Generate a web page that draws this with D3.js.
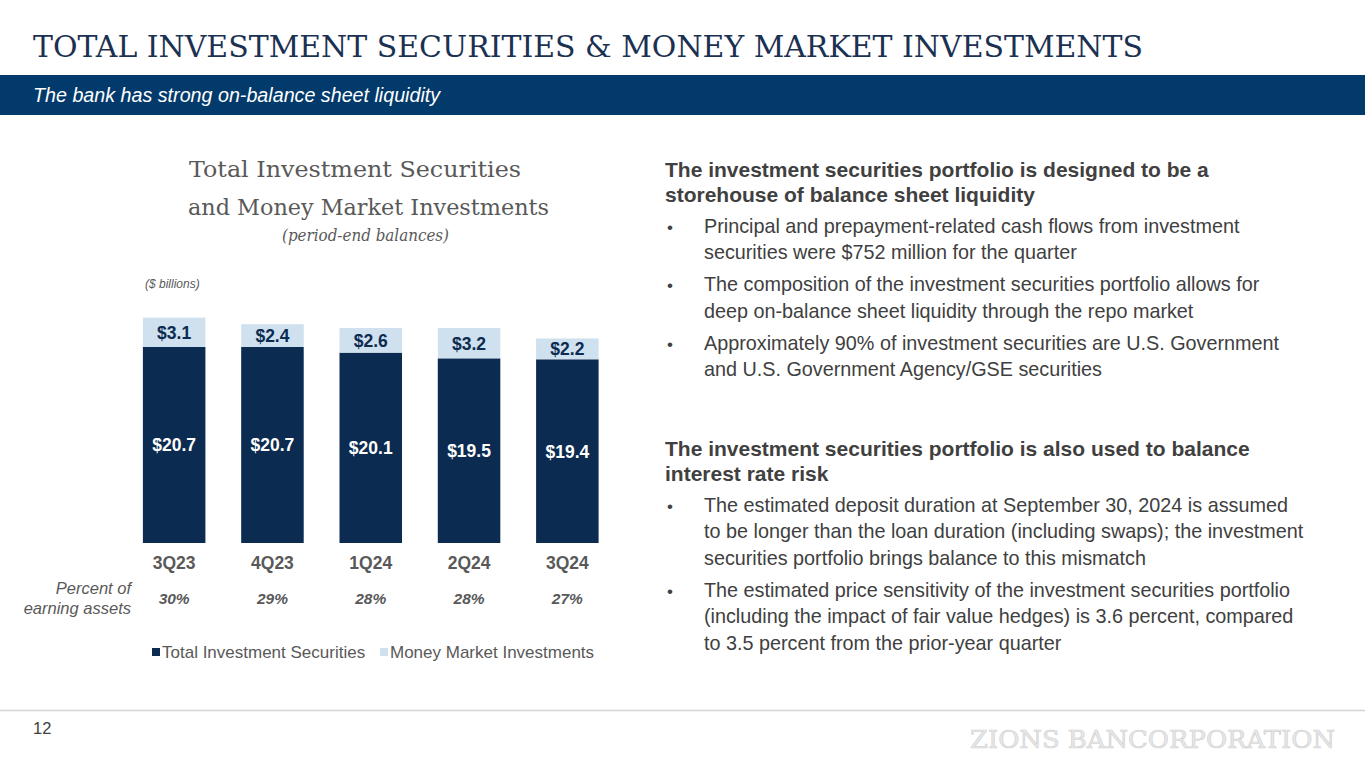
<!DOCTYPE html>
<html>
<head>
<meta charset="utf-8">
<script src="https://cdn.jsdelivr.net/npm/d3@7"></script>
<style>
  html, body { margin: 0; padding: 0; background: #fff; }
  svg { display: block; }
</style>
</head>
<body>
<div id="chart-container"></div>
<script>
// Chart data.
const quarters = ["3Q23", "4Q23", "1Q24", "2Q24", "3Q24"];
const investmentSecurities = [20.7, 20.7, 20.1, 19.5, 19.4];
const moneyMarket = [3.1, 2.4, 2.6, 3.2, 2.2];
const pctEarningAssets = ["30%", "29%", "28%", "28%", "27%"];
const seriesNames = ["Total Investment Securities", "Money Market Investments"];

// Right-hand commentary.
const sections = [
  {
    head: ["The investment securities portfolio is designed to be a", "storehouse of balance sheet liquidity"],
    bullets: [
      ["Principal and prepayment-related cash flows from investment", "securities were $752 million for the quarter"],
      ["The composition of the investment securities portfolio allows for", "deep on-balance sheet liquidity through the repo market"],
      ["Approximately 90% of investment securities are U.S. Government", "and U.S. Government Agency/GSE securities"]
    ]
  },
  {
    head: ["The investment securities portfolio is also used to balance", "interest rate risk"],
    bullets: [
      ["The estimated deposit duration at September 30, 2024 is assumed", "to be longer than the loan duration (including swaps); the investment", "securities portfolio brings balance to this mismatch"],
      ["The estimated price sensitivity of the investment securities portfolio", "(including the impact of fair value hedges) is 3.6 percent, compared", "to 3.5 percent from the prior-year quarter"]
    ]
  }
];

const W = 1365, H = 768;
const navy = "#0c2b50", lightBlue = "#cfe0ef", gray = "#595959", textGray = "#404040";
const sans = "'Liberation Sans', Arial, sans-serif";
const serif = "Georgia, 'DejaVu Serif', serif";

const svg = d3.select("#chart-container").append("svg")
  .attr("width", W)
  .attr("height", H);

// Page title.
svg.append("text")
  .attr("x", 33)
  .attr("y", 57)
  .attr("fill", "#1b3152")
  .attr("font-family", serif)
  .attr("font-size", 29)
  .attr("textLength", 1110)
  .attr("lengthAdjust", "spacingAndGlyphs")
  .text("TOTAL INVESTMENT SECURITIES & MONEY MARKET INVESTMENTS");

// Header band.
svg.append("rect")
  .attr("x", 0).attr("y", 75)
  .attr("width", W).attr("height", 40)
  .attr("fill", "#023a6b");

svg.append("text")
  .attr("x", 33).attr("y", 102)
  .attr("fill", "#fff")
  .attr("font-family", sans)
  .attr("font-style", "italic")
  .attr("font-size", 19.7)
  .text("The bank has strong on-balance sheet liquidity");

// Chart title.
const titleG = svg.append("g").attr("font-family", serif).attr("fill", gray);
titleG.append("text").attr("x", 189).attr("y", 177).attr("font-size", 23)
  .attr("textLength", 332).attr("lengthAdjust", "spacingAndGlyphs").text("Total Investment Securities");
titleG.append("text").attr("x", 188).attr("y", 215).attr("font-size", 23)
  .attr("textLength", 361).attr("lengthAdjust", "spacingAndGlyphs").text("and Money Market Investments");
titleG.append("text").attr("x", 282).attr("y", 241).attr("font-size", 16).attr("font-style", "italic")
  .attr("textLength", 167).attr("lengthAdjust", "spacingAndGlyphs").text("(period-end balances)");

svg.append("text")
  .attr("x", 145).attr("y", 288)
  .attr("fill", gray)
  .attr("font-family", sans)
  .attr("font-style", "italic")
  .attr("font-size", 12)
  .text("($ billions)");

// Scales.
const xScale = d3.scaleBand()
  .domain(quarters)
  .range([125, 616.5])
  .paddingInner(0.364)
  .paddingOuter(0.182);

const yScale = d3.scaleLinear()
  .domain([0, 25])
  .range([543, 543 - 25 * 9.47]);

const bw = xScale.bandwidth();
const rows = quarters.map((q, i) => ({ q, sec: investmentSecurities[i], mm: moneyMarket[i], pct: pctEarningAssets[i] }));

const chart = svg.append("g").attr("id", "chart");

// Investment securities bars.
chart.selectAll(".bar-sec")
  .data(rows)
  .enter()
  .append("rect")
    .classed("bar-sec", true)
    .attr("x", d => xScale(d.q))
    .attr("y", d => yScale(d.sec))
    .attr("width", bw)
    .attr("height", d => yScale(0) - yScale(d.sec))
    .attr("fill", navy);

// Money market bars.
chart.selectAll(".bar-mm")
  .data(rows)
  .enter()
  .append("rect")
    .classed("bar-mm", true)
    .attr("x", d => xScale(d.q))
    .attr("y", d => yScale(d.sec + d.mm))
    .attr("width", bw)
    .attr("height", d => yScale(d.sec) - yScale(d.sec + d.mm))
    .attr("fill", lightBlue);

// Bar labels.
chart.selectAll(".lbl-sec")
  .data(rows)
  .enter()
  .append("text")
    .attr("x", d => xScale(d.q) + bw / 2)
    .attr("y", d => (yScale(0) + yScale(d.sec)) / 2 + 6.5)
    .attr("text-anchor", "middle")
    .attr("fill", "#fff")
    .attr("font-family", sans)
    .attr("font-weight", "bold")
    .attr("font-size", 17.5)
    .text(d => `$${d.sec.toFixed(1)}`);

chart.selectAll(".lbl-mm")
  .data(rows)
  .enter()
  .append("text")
    .attr("x", d => xScale(d.q) + bw / 2)
    .attr("y", d => (yScale(d.sec) + yScale(d.sec + d.mm)) / 2 + 6.5)
    .attr("text-anchor", "middle")
    .attr("fill", navy)
    .attr("font-family", sans)
    .attr("font-weight", "bold")
    .attr("font-size", 17.5)
    .text(d => `$${d.mm.toFixed(1)}`);

// Category axis.
const xAxis = chart.append("g")
  .attr("transform", `translate(0 ${ yScale(0) })`)
  .call(d3.axisBottom(xScale).tickSize(0).tickPadding(14));
xAxis.select(".domain").remove();
xAxis.selectAll("text")
  .attr("fill", gray)
  .attr("font-family", sans)
  .attr("font-weight", "bold")
  .attr("font-size", 17.5);

// Percent of earning assets row.
chart.selectAll(".pct")
  .data(rows)
  .enter()
  .append("text")
    .attr("x", d => xScale(d.q) + bw / 2)
    .attr("y", 604)
    .attr("text-anchor", "middle")
    .attr("fill", gray)
    .attr("font-family", sans)
    .attr("font-weight", "bold")
    .attr("font-style", "italic")
    .attr("font-size", 15.5)
    .text(d => d.pct);

const pctLabel = svg.append("g")
  .attr("font-family", sans).attr("font-style", "italic").attr("font-size", 16.5)
  .attr("fill", gray).attr("text-anchor", "end");
pctLabel.append("text").attr("x", 131).attr("y", 594).text("Percent of");
pctLabel.append("text").attr("x", 131).attr("y", 614).text("earning assets");

// Legend.
const legend = svg.append("g").attr("font-family", sans).attr("font-size", 17).attr("fill", gray);
const legendX = [152, 380];
seriesNames.forEach((name, i) => {
  legend.append("rect")
    .attr("x", legendX[i]).attr("y", 648)
    .attr("width", 8).attr("height", 8)
    .attr("fill", i === 0 ? navy : lightBlue);
  legend.append("text")
    .attr("x", legendX[i] + 10).attr("y", 658)
    .text(name);
});

// Commentary text.
const txt = svg.append("g").attr("font-family", sans).attr("fill", textGray);
let y = 177;
sections.forEach((s, si) => {
  if (si === 1) y = 456;
  s.head.forEach(line => {
    txt.append("text").attr("x", 665).attr("y", y)
      .attr("font-weight", "bold").attr("font-size", 21)
      .text(line);
    y += 24.5;
  });
  y += 6.5;
  s.bullets.forEach(b => {
    txt.append("text").attr("x", 667).attr("y", y).attr("font-size", 17).text("\u2022");
    b.forEach(line => {
      txt.append("text").attr("x", 704).attr("y", y).attr("font-size", 19.8).text(line);
      y += 26.5;
    });
    y += 5.5;
  });
});

// Footer.
svg.append("line")
  .attr("x1", 0).attr("x2", W)
  .attr("y1", 710.5).attr("y2", 710.5)
  .attr("stroke", "#d4d4d4")
  .attr("stroke-width", 1.5);

svg.append("text")
  .attr("x", 33).attr("y", 734)
  .attr("fill", textGray)
  .attr("font-family", sans)
  .attr("font-size", 16.5)
  .text("12");

svg.append("text")
  .attr("x", 970).attr("y", 748)
  .attr("fill", "#e8e8e8")
  .attr("stroke", "#d0d0d0")
  .attr("stroke-width", 0.6)
  .attr("font-family", serif)
  .attr("font-size", 24)
  .attr("textLength", 365)
  .attr("lengthAdjust", "spacingAndGlyphs")
  .text("ZIONS BANCORPORATION");
</script>
</body>
</html>
